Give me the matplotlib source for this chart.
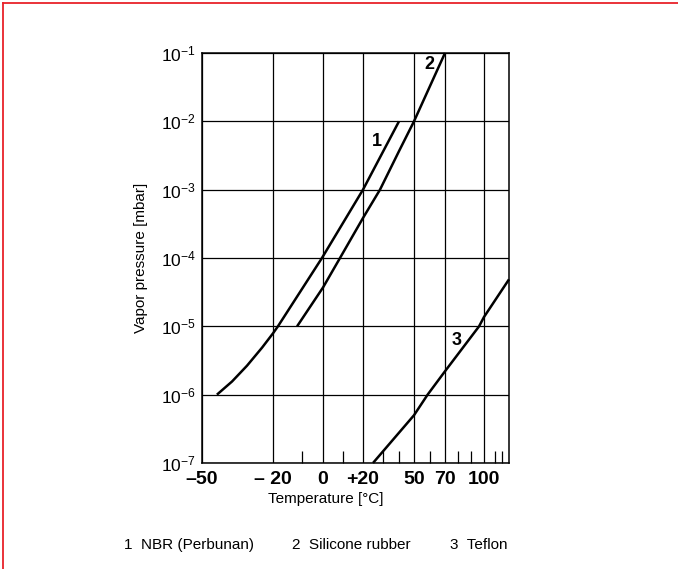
import numpy as np
import matplotlib
matplotlib.use('Agg')
import matplotlib.pyplot as plt
from matplotlib.lines import Line2D

plt.rcParams['font.family'] = ['Liberation Sans', 'DejaVu Sans']
plt.rcParams['mathtext.default'] = 'regular'

# curves: temperature [°C], vapor pressure [mbar]
nbr_t = [-43.7, -37.3, -31.0, -24.6, -20.0, -18.3, -0.5, 20.0, 40.0]
nbr_p = [1e-6, 1.56e-6, 2.65e-6, 4.89e-6, 7.9e-6, 1e-5, 1e-4, 1e-3, 1e-2]

sil_t = [-11.7, 0.0, 8.5, 20.0, 28.5, 40.0, 50.0, 70.0]
sil_p = [1e-5, 3.7e-5, 1e-4, 3.85e-4, 1e-3, 3.66e-3, 1e-2, 1e-1]

tef_t = [25.0, 50.0, 58.5, 70.0, 96.2, 100.0, 130.0]
tef_p = [1e-7, 5.0e-7, 1e-6, 2.2e-6, 1e-5, 1.37e-5, 4.87e-5]

curve_ids = ['1', '2', '3']
legend_names = ['NBR (Perbunan)', 'Silicone rubber', 'Teflon']

x_major = [-50, -20, 0, 20, 50, 70, 100]
x_labels = ['\u201350', '\u2013 20', '0', '+20', '50', '70', '100']
x_minor = [-10, 10, 30, 40, 60, 80, 90, 110, 120]
y_major = [1e-7, 1e-6, 1e-5, 1e-4, 1e-3, 1e-2, 1e-1]
y_labels = [r'$10^{-7}$', r'$10^{-6}$', r'$10^{-5}$', r'$10^{-4}$',
            r'$10^{-3}$', r'$10^{-2}$', r'$10^{-1}$']

# uneven temperature axis of the original (roughly 1/T)
scale_t = [-50, -20, -10, 0, 10, 20, 30, 40, 50, 60, 70, 80, 90, 100, 110, 120, 130]
scale_u = [0, 71, 100, 121, 141, 161, 181, 197, 212, 228, 243, 256, 269, 282, 293, 300, 307]


def fwd(t):
    return np.interp(t, scale_t, scale_u)


def inv(u):
    return np.interp(u, scale_u, scale_t)


fig = plt.figure(figsize=(6.78, 5.69), dpi=100)
ax = fig.add_axes([202 / 678, 1 - 463 / 569, 307 / 678, 410 / 569])

ax.set_xscale('function', functions=(fwd, inv))
ax.set_yscale('log')
ax.set_xlim(-50, 130)
ax.set_ylim(1e-7, 1e-1)

ax.grid(True, which='major', color='black', lw=0.9)
ax.set_axisbelow(True)

for t, p in [(nbr_t, nbr_p), (sil_t, sil_p), (tef_t, tef_p)]:
    ax.plot(t, p, color='black', lw=1.8, solid_capstyle='butt',
            solid_joinstyle='round', clip_on=False)

ax.set_xticks(x_major)
ax.set_xticklabels(x_labels, fontsize=14, fontweight='bold')
ax.set_xticks(x_minor, minor=True)
ax.set_yticks(y_major)
ax.set_yticklabels(y_labels, fontsize=12.5)
ax.yaxis.set_minor_locator(matplotlib.ticker.NullLocator())
ax.tick_params(axis='x', which='major', length=0, pad=5.5)
ax.tick_params(axis='x', which='minor', direction='in', length=8.5, width=0.9)
ax.tick_params(axis='y', which='major', length=0, pad=4.5)

for s in ax.spines.values():
    s.set_linewidth(1.1)

# curve numbers
ax.text(27, 5.1e-3, curve_ids[0], fontsize=13, fontweight='bold', ha='center', va='center')
ax.text(59.4, 0.0668, curve_ids[1], fontsize=13, fontweight='bold', ha='center', va='center')
ax.text(79.2, 6.2e-6, curve_ids[2], fontsize=13, fontweight='bold', ha='center', va='center')

ax.set_ylabel('Vapor pressure [mbar]', fontsize=11)
ax.yaxis.set_label_coords(-0.176, 0.5)
fig.text(326 / 678, 1 - 499 / 569, 'Temperature [\u00b0C]', fontsize=11,
         ha='center', va='center')

# legend line at the bottom
leg_x = [124, 292, 450]
for x, cid, name in zip(leg_x, curve_ids, legend_names):
    fig.text(x / 678, 1 - 545 / 569, cid + '  ' + name, fontsize=11,
             ha='left', va='center')

# red frame on top and left
fig.add_artist(Line2D([3.3 / 678, 1], [1 - 3.3 / 569, 1 - 3.3 / 569],
                      color='#e8222a', lw=1.3, transform=fig.transFigure))
fig.add_artist(Line2D([3.3 / 678, 3.3 / 678], [0, 1 - 3.3 / 569],
                      color='#e8222a', lw=1.3, transform=fig.transFigure))

fig.savefig('out.png', dpi=100)
